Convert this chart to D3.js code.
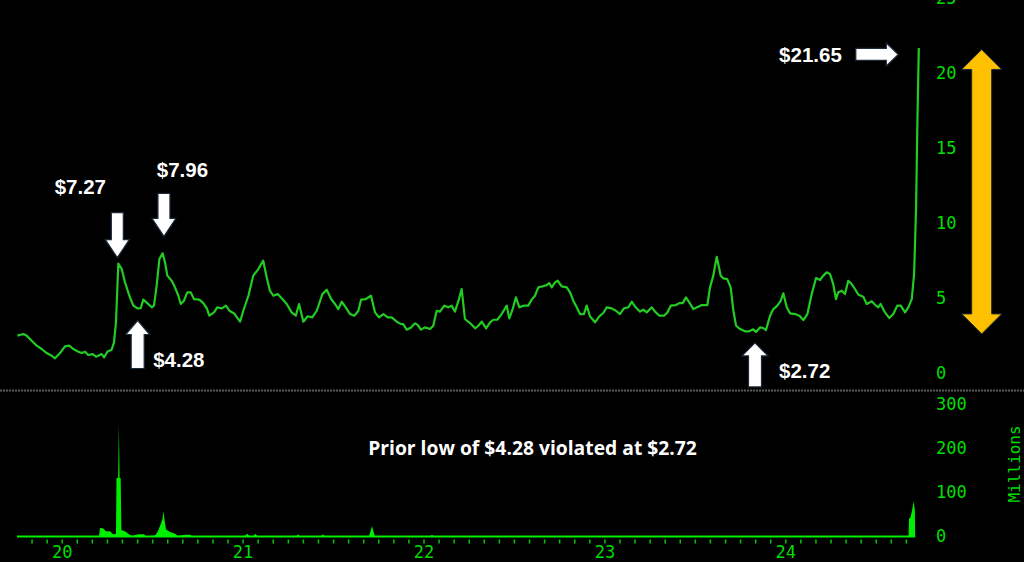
<!DOCTYPE html>
<html><head><meta charset="utf-8">
<script src="https://cdn.jsdelivr.net/npm/d3@7"></script>
<style>html,body{margin:0;padding:0;background:#000;overflow:hidden}</style>
</head><body>
<svg id="c" width="1024" height="562" style="display:block;background:#000"></svg>
<script>
// ---- data (time in decimal years) ----
const priceTimes = [
2019.755,2019.788,2019.807,2019.834,2019.862,2019.889,2019.917,2019.945,2019.963,2019.991,
2020.018,2020.042,2020.064,2020.092,2020.111,2020.129,2020.147,2020.171,2020.190,2020.202,
2020.221,2020.234,2020.252,2020.276,2020.289,2020.300,2020.313,2020.332,2020.350,2020.374,
2020.396,2020.420,2020.437,2020.451,2020.473,2020.498,2020.510,2020.525,2020.540,2020.558,
2020.571,2020.584,2020.608,2020.626,2020.645,2020.658,2020.676,2020.694,2020.713,2020.731,
2020.761,2020.783,2020.802,2020.816,2020.842,2020.860,2020.885,2020.908,2020.927,2020.953,
2020.986,2021.004,2021.032,2021.059,2021.087,2021.114,2021.133,2021.151,2021.170,2021.194,
2021.216,2021.244,2021.271,2021.294,2021.312,2021.336,2021.360,2021.385,2021.410,2021.441,
2021.465,2021.489,2021.511,2021.529,2021.548,2021.570,2021.594,2021.618,2021.640,2021.655,
2021.681,2021.710,2021.732,2021.754,2021.778,2021.802,2021.824,2021.852,2021.876,2021.888,
2021.907,2021.931,2021.953,2021.968,2021.986,2022.008,2022.036,2022.054,2022.073,2022.091,
2022.115,2022.137,2022.156,2022.174,2022.196,2022.211,2022.229,2022.257,2022.285,2022.303,
2022.322,2022.346,2022.368,2022.386,2022.408,2022.432,2022.460,2022.474,2022.493,2022.511,
2022.530,2022.556,2022.579,2022.598,2022.616,2022.635,2022.659,2022.681,2022.695,2022.709,
2022.727,2022.742,2022.764,2022.792,2022.810,2022.828,2022.847,2022.865,2022.887,2022.902,
2022.920,2022.948,2022.972,2022.994,2023.013,2023.040,2023.064,2023.086,2023.108,2023.132,
2023.151,2023.169,2023.197,2023.215,2023.234,2023.262,2023.280,2023.304,2023.330,2023.348,
2023.367,2023.396,2023.414,2023.433,2023.451,2023.469,2023.492,2023.519,2023.538,2023.569,
2023.584,2023.602,2023.621,2023.643,2023.657,2023.679,2023.698,2023.713,2023.728,2023.750,
2023.777,2023.801,2023.823,2023.838,2023.860,2023.878,2023.893,2023.916,2023.934,2023.956,
2023.975,2023.989,2024.008,2024.026,2024.054,2024.078,2024.100,2024.122,2024.146,2024.170,
2024.192,2024.210,2024.229,2024.247,2024.265,2024.280,2024.293,2024.312,2024.330,2024.348,
2024.367,2024.385,2024.404,2024.431,2024.450,2024.478,2024.496,2024.514,2024.527,2024.551,
2024.575,2024.597,2024.619,2024.638,2024.662,2024.680,2024.699,2024.712,2024.723,2024.730,
2024.738];
const prices = [
2.47,2.58,2.47,2.13,1.80,1.58,1.31,1.13,0.96,1.31,
1.76,1.80,1.58,1.40,1.31,1.40,1.18,1.24,1.07,1.13,
1.24,1.02,1.40,1.53,2.02,3.36,7.27,6.90,6.02,5.13,
4.47,4.28,4.30,4.87,4.64,4.36,4.47,5.80,7.58,7.96,
7.36,6.47,6.13,5.69,5.13,4.58,4.80,5.36,5.36,4.91,
4.87,4.64,4.29,3.80,4.02,4.36,4.29,4.47,4.13,3.95,
3.40,4.13,5.13,6.47,6.91,7.47,6.36,5.47,5.13,5.24,
4.96,4.58,4.02,3.80,4.58,3.40,3.76,3.69,4.13,5.24,
5.53,4.91,4.58,4.24,4.73,4.36,3.91,3.80,4.13,4.87,
4.91,5.13,4.02,3.69,3.91,3.69,3.69,3.40,3.24,3.24,
2.87,3.02,3.29,3.18,2.87,3.02,2.91,3.13,4.13,4.07,
4.47,4.36,4.47,4.07,4.91,5.58,3.58,3.31,2.96,3.13,
3.40,2.96,3.36,3.53,3.53,3.91,4.47,3.62,4.24,5.02,
4.36,4.47,4.47,4.87,5.13,5.69,5.76,5.84,5.98,5.69,
6.02,6.13,5.76,5.69,5.36,4.80,4.36,3.91,3.91,4.47,
3.76,3.36,3.76,3.98,4.36,4.29,4.13,3.91,4.29,4.36,
4.73,4.42,4.07,4.20,4.02,4.36,4.07,3.80,3.80,4.02,
4.47,4.51,4.64,4.64,5.02,4.69,4.24,4.40,4.51,4.51,
5.69,6.47,7.73,6.47,6.29,6.24,5.69,4.13,3.13,2.91,
2.76,2.76,2.89,2.72,3.02,2.98,2.84,3.80,4.24,4.47,
4.80,5.29,4.36,3.96,3.91,3.80,3.51,3.91,5.24,6.31,
6.18,6.47,6.69,6.58,5.91,4.91,5.36,5.47,5.24,6.13,
5.91,5.58,5.20,5.07,4.58,4.76,4.53,4.36,4.58,4.02,
3.64,3.91,4.47,4.47,4.02,4.36,4.91,6.58,11.02,16.58,
21.65];
const volumeTimes = [
2019.753,2020.206,2020.212,2020.229,2020.245,2020.267,2020.284,2020.300,2020.303,2020.312,
2020.316,2020.320,2020.326,2020.330,2020.350,2020.372,2020.389,2020.422,2020.455,2020.466,
2020.516,2020.532,2020.549,2020.557,2020.563,2020.568,2020.577,2020.599,2020.627,2020.643,
2020.682,2020.710,2020.721,2021.008,2021.025,2021.041,2021.058,2021.069,2021.085,2021.295,
2021.306,2021.317,2021.433,2021.444,2021.455,2021.698,2021.707,2021.715,2021.723,2021.732,
2022.036,2022.047,2022.058,2024.681,2024.684,2024.693,2024.702,2024.710,2024.716,2024.718];
const volumes = [
0,0,20,18,12,12,5,6,133,133,
255,133,133,15,12,5,1,5,5,0,
2,12,30,40,58,38,16,10,6,1,
4,4,0,0,6,0,0,6,0,0,
5,0,0,5,0,0,12,24,12,0,
0,4,0,0,40,45,62,80,60,0];
const priceTicks = [0,5,10,15,20,25];
const volumeTicks = [0,100,200,300];
const yearTicks = [2020,2021,2022,2023,2024];
const yearLabels = ["20","21","22","23","24"];
const volumeUnit = "Millions";
const notes = [
  {label:"$7.27", t:2020.313, v:7.27},
  {label:"$7.96", t:2020.558, v:7.96},
  {label:"$4.28", t:2020.420, v:4.28},
  {label:"$2.72", t:2023.838, v:2.72},
  {label:"$21.65", t:2024.738, v:21.65}
];
const caption = "Prior low of $4.28 violated at $2.72";

// ---- layout ----
const svg = d3.select("#c");
const W = 1024, H = 562;
const x = d3.scaleLinear().domain([2020, 2024]).range([61.7, 785.3]);
const y = d3.scaleLinear().domain([0, 25]).range([372.7, -2.3]);
const yv = d3.scaleLinear().domain([0, 300]).range([536.5, 404.5]);
const GREEN_TXT = "#00dd00";
const monoFont = "'DejaVu Sans Mono', monospace";

svg.append("rect").attr("width", W).attr("height", H).attr("fill", "#000");

// separator
svg.append("line").attr("x1", 0).attr("x2", W).attr("y1", 390.5).attr("y2", 390.5)
  .attr("stroke", "#5a5a5a").attr("stroke-width", 2).attr("stroke-dasharray", "2,1");

// price axis
const pa = svg.append("g").attr("transform", "translate(936,0)")
  .call(d3.axisRight(y).tickValues(priceTicks).tickSize(0).tickPadding(0));
pa.select(".domain").remove();
pa.selectAll("text").attr("fill", GREEN_TXT).attr("font-family", monoFont)
  .attr("font-size", 17).attr("text-anchor", "start");

// volume axis
const va = svg.append("g").attr("transform", "translate(936,0)")
  .call(d3.axisRight(yv).tickValues(volumeTicks).tickSize(0).tickPadding(0));
va.select(".domain").remove();
va.selectAll("text").attr("fill", GREEN_TXT).attr("font-family", monoFont)
  .attr("font-size", 17).attr("text-anchor", "start");

svg.append("text").attr("transform", "translate(1020,464) rotate(-90)")
  .attr("text-anchor", "middle").attr("fill", GREEN_TXT).attr("font-family", monoFont)
  .attr("font-size", 16).text(volumeUnit);

// month ticks
const monthTicks = d3.range(0, 59).map(i => 2019 + (10 + i) / 12).filter(t => t < 2024.7);
const mt = svg.append("g").attr("transform", "translate(0,539.5)")
  .call(d3.axisBottom(x).tickValues(monthTicks).tickSize(4).tickFormat(""));
mt.select(".domain").remove();
mt.selectAll("line").attr("stroke", "#00cc00").attr("stroke-width", 1.5);

// year labels
const ya = svg.append("g").attr("transform", "translate(0,546.2)")
  .call(d3.axisBottom(x).tickValues(yearTicks).tickSize(0).tickPadding(0)
    .tickFormat((d, i) => yearLabels[i]));
ya.select(".domain").remove();
ya.selectAll("text").attr("fill", GREEN_TXT).attr("font-family", monoFont).attr("font-size", 17);

// volume area
const vdata = volumeTimes.map((t, i) => ({t, v: volumes[i]}));
svg.append("path").datum(vdata)
  .attr("d", d3.area().x(d => x(d.t)).y0(yv(0)).y1(d => yv(d.v)))
  .attr("fill", "#00ee00");
svg.append("line")
  .attr("x1", x(volumeTimes[0])).attr("x2", x(volumeTimes[volumeTimes.length - 1]))
  .attr("y1", yv(0)).attr("y2", yv(0))
  .attr("stroke", "#00ee00").attr("stroke-width", 2.2);

// price line
const pdata = priceTimes.map((t, i) => ({t, v: prices[i]}));
svg.append("path").datum(pdata)
  .attr("d", d3.line().x(d => x(d.t)).y(d => y(d.v)))
  .attr("fill", "none").attr("stroke", "#22cc22").attr("stroke-width", 2.2)
  .attr("stroke-linejoin", "round");

// ---- annotations ----
function arrowPath(x1, y1, x2, y2, sw, hw, hl, both) {
  const dx = x2 - x1, dy = y2 - y1, L = Math.hypot(dx, dy);
  const ux = dx / L, uy = dy / L, nx = -uy, ny = ux;
  const p = (px, py) => [px, py];
  const nk = [x2 - ux * hl, y2 - uy * hl];
  let pts;
  if (!both) {
    pts = [
      p(x1 + nx * sw, y1 + ny * sw), p(nk[0] + nx * sw, nk[1] + ny * sw),
      p(nk[0] + nx * hw, nk[1] + ny * hw), p(x2, y2),
      p(nk[0] - nx * hw, nk[1] - ny * hw), p(nk[0] - nx * sw, nk[1] - ny * sw),
      p(x1 - nx * sw, y1 - ny * sw)];
  } else {
    const tk = [x1 + ux * hl, y1 + uy * hl];
    pts = [
      p(x1, y1), p(tk[0] + nx * hw, tk[1] + ny * hw), p(tk[0] + nx * sw, tk[1] + ny * sw),
      p(nk[0] + nx * sw, nk[1] + ny * sw), p(nk[0] + nx * hw, nk[1] + ny * hw), p(x2, y2),
      p(nk[0] - nx * hw, nk[1] - ny * hw), p(nk[0] - nx * sw, nk[1] - ny * sw),
      p(tk[0] - nx * sw, tk[1] - ny * sw), p(tk[0] - nx * hw, tk[1] - ny * hw)];
  }
  return "M" + pts.map(q => q.join(",")).join("L") + "Z";
}

// per-note arrow layout: tip offset from data point, arrow direction/length, label placement
const noteLayout = [
  {tip:[-1, -6], dir:[0, 1], len:45, sw:6, hw:12, hl:18, lx:-37, ly:-64, anchor:"middle"},
  {tip:[1.3, -17], dir:[0, 1], len:43, sw:6, hw:12, hl:18, lx:18.5, ly:-59, anchor:"middle"},
  {tip:[0, 12], dir:[0, -1], len:48, sw:6.5, hw:12, hl:14, lx:15.5, ly:46, anchor:"start"},
  {tip:[-1, 11], dir:[0, -1], len:44, sw:6.5, hw:13, hl:13, lx:24, ly:35, anchor:"start"},
  {tip:[-20.5, 6.5], dir:[1, 0], len:42.5, sw:6, hw:11.5, hl:12, lx:-56.5, ly:7.5, anchor:"end"}
];
const ann = svg.append("g");
notes.forEach((n, i) => {
  const L = noteLayout[i];
  const tx = x(n.t) + L.tip[0], ty = y(n.v) + L.tip[1];
  const sx = tx - L.dir[0] * L.len, sy = ty - L.dir[1] * L.len;
  ann.append("path").attr("d", arrowPath(sx, sy, tx, ty, L.sw, L.hw, L.hl, false))
    .attr("fill", "#ffffff").attr("stroke", "#1c2a3a").attr("stroke-width", 1.2);
  ann.append("text").attr("x", tx + L.lx).attr("y", ty + L.ly)
    .attr("text-anchor", L.anchor).attr("fill", "#ffffff")
    .attr("font-family", "'Liberation Sans', Arial, sans-serif").attr("font-weight", 700)
    .attr("font-size", 20.5).text(n.label);
});

// orange range arrow from the low to the high
const lowNote = notes[3], highNote = notes[4];
ann.append("path")
  .attr("d", arrowPath(981.7, y(highNote.v) + 1.5, 981.7, y(lowNote.v) + 2, 10, 20, 20, true))
  .attr("fill", "#ffc000").attr("stroke", "#1c2a3a").attr("stroke-width", 1);

svg.append("text").attr("x", 532.5).attr("y", 455).attr("text-anchor", "middle")
  .attr("fill", "#ffffff").attr("font-family", "'Open Sans', sans-serif").attr("font-weight", 700)
  .attr("font-size", 19.3).text(caption);
</script>
</body></html>
